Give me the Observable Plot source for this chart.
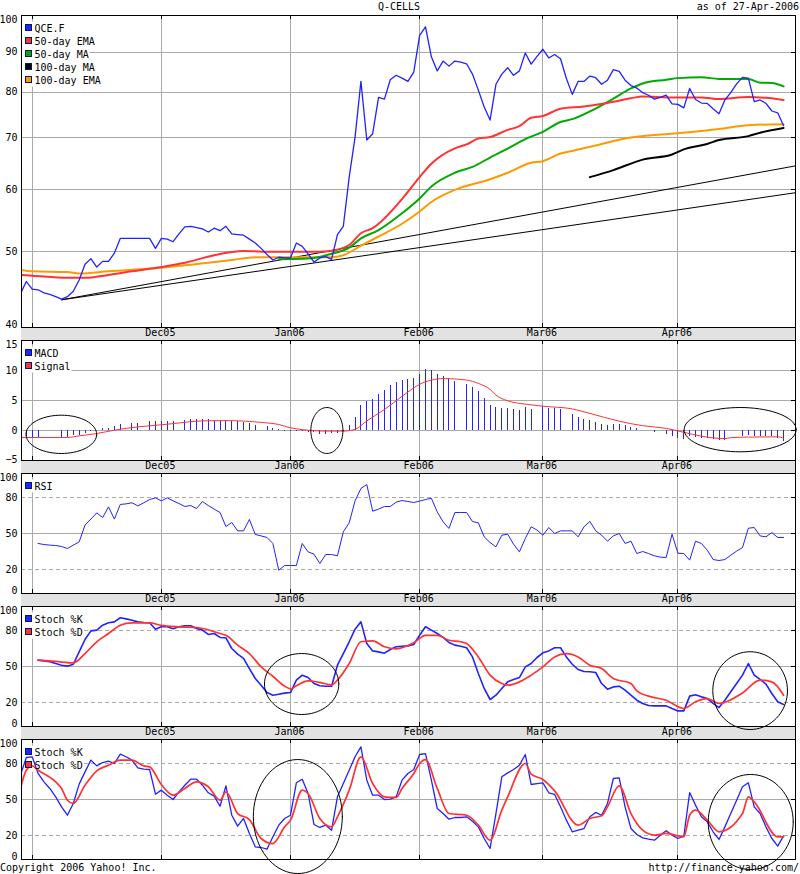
<!DOCTYPE html>
<html><head><meta charset="utf-8">
<script src="https://cdn.jsdelivr.net/npm/d3@7"></script>
<script src="https://cdn.jsdelivr.net/npm/@observablehq/plot@0.6"></script>
<style>
html,body{margin:0;padding:0;background:#fff;overflow:hidden}
#page{position:relative;width:800px;height:874px;overflow:hidden;font:10px "DejaVu Sans Mono",monospace;color:#000}
.t{position:absolute;white-space:pre;line-height:12px}
.band{position:absolute;left:21px;width:774px;height:13px;background:#e2e2e2;border-right:1px solid #000}
svg{position:absolute;left:0;overflow:visible}
</style></head><body><div id="page"></div>
<script>
const BLUE="#2222ff",RED="#ff3333",GREEN="#00aa00",ORANGE="#ff9900",GRID="#aaaaaa";
const monthTicks=[1,23,45,67,88,111];
const monthLabels=["","Dec05","Jan06","Feb06","Mar06","Apr06"];
const xDomain=[-0.823,131.03];

// price panel (sessions counted from -1)
const price=[44.2,45.8,44.8,44.7,44.3,44.1,43.8,43.5,43.8,44.5,46.0,48.2,49.0,47.8,48.6,48.6,49.8,52.0,52.0,52.0,52.0,52.0,52.0,50.5,52.0,51.9,51.5,52.7,53.8,53.9,53.7,53.5,53.0,53.6,53.2,53.9,52.7,52.6,52.5,51.9,51.3,50.5,49.6,48.8,49.2,49.1,49.1,51.3,50.8,49.7,48.5,49.1,49.3,48.9,52.6,53.9,62.3,70.1,82.6,69.5,70.8,78.8,78.4,83.0,84.1,83.4,82.6,84.9,94.6,97.0,88.8,85.2,87.7,86.4,87.7,87.4,87.0,84.4,80.5,76.6,73.7,81.9,84.4,86.0,84.1,85.2,89.8,86.9,88.9,90.8,88.5,89.4,88.3,83.3,79.5,82.6,82.6,83.9,83.5,81.9,82.9,85.5,85.1,82.9,81.6,81.0,79.9,79.3,78.4,78.8,79.3,77.3,77.2,76.4,80.9,78.3,77.5,77.4,76.2,75.1,78.2,79.9,82.0,83.6,83.4,77.8,78.2,77.4,75.7,75.3,72.5];
const ema50Days=[-1,1,7,10,14,18,23,27,32,37,42,50,53,55,57,59,64,67,69,73,75,77,79,82,84,86,88,91,95,100,103,105,110,115,118,123,126,129];
const ema50=[46.7,46.6,46.3,46.3,46.7,47.2,47.8,48.4,49.5,50.1,50.0,50.0,50.3,51.0,52.8,53.6,58.4,62.3,64.8,67.8,68.6,69.8,70.1,71.6,72.4,74.2,74.6,76.2,76.7,77.8,78.6,79.0,78.8,78.8,78.4,78.9,78.7,78.2];
const ma50Days=[43,48,52,55,57,60,64,67,69,73,76,79,83,85,88,91,93,96,100,103,105,109,111,115,118,123,125,127,129];
const ma50=[48.9,49,49.7,50.6,52,53.3,56,58.5,60.6,63.1,64.2,66,68.4,69.7,71.2,73.3,73.9,75.6,78.5,80.9,82.1,83,83.4,83.6,83.2,83.2,82.3,82.2,81.4];
const ma100Days=[96,100,105,110,112,116,118,123,125,129];
const ma100=[62.3,63.6,65.6,66.6,67.6,68.7,69.5,70.3,71,72];
const ema100Days=[-1,1,7,9,14,23,31,35,39,52,54,57,60,64,67,69,73,79,82,86,88,91,93,97,103,111,118,123,129];
const ema100=[47.4,47.2,47.1,46.9,47.2,47.7,48.4,48.8,49.2,49.2,49.5,50.9,52.3,54.3,56.3,57.9,60,61.9,63.1,65,65.3,66.8,67.3,68.4,70,70.9,71.8,72.6,72.8];
const trendDays=[6,131.03];
const trendUpper=[43.4,64.4];
const trendLower=[43.4,59.5];

// MACD panel
const macdDays=[0,1,2,6,7,8,9,10,11,13,14,15,16,18,19,21,22,23,24,25,27,28,29,30,31,32,33,34,35,36,37,38,39,41,42,43,44,45,46,47,48,49,50,51,52,53,54,55,56,57,58,59,60,61,62,63,64,65,66,67,68,69,70,71,72,73,75,76,77,78,79,80,81,82,83,84,85,86,88,89,90,91,93,94,95,96,97,98,99,100,101,102,103,104,105,107,109,110,111,112,113,114,115,116,117,118,119,122,123,124,125,126,127,128,129];
const macd=[-1.05,-1.2,-1.2,-1.2,-1.2,-.9,-.8,-.5,-.2,.4,.4,.7,1.05,1.15,1.2,1.55,1.55,1.55,1.55,1.55,1.7,1.9,1.9,1.9,1.85,1.7,1.7,1.7,1.5,1.45,1.3,1.15,.9,.7,.4,.2,-.2,-.1,-.15,-.2,-.4,-.4,-.6,-.6,-.55,-.45,-.2,.9,2.2,4.2,4.8,5.2,6.05,6.7,7.55,8.05,8.4,8.55,8.7,9.4,10.2,10.05,9.4,9.05,8.65,8.2,7.7,7.2,6.45,5.4,4.2,3.9,3.7,3.7,3.55,3.4,3.8,3.55,3.95,3.7,3.7,3.55,2.7,2.2,1.9,1.7,1.4,1.05,.9,1.05,1.05,.9,.55,.4,.05,-.4,-.6,-.95,-1.3,-1.45,-1.05,-1.2,-1.4,-1.4,-1.5,-1.7,-1.7,-1.05,-.8,-.95,-1,-1,-1.05,-1.3,-1.8];
const signalDays=[-1,7,9,12,15,19,23,25,30,34,40,43,45,47,51,54,56,58,61,64,66,67,69,71,75,77,79,80,82,85,88,93,96,101,105,109,112,115,119,120,123,128,129];
const signal=[-1.17,-1.17,-.9,-.5,.05,.6,.95,1.15,1.6,1.65,1.35,1,.45,.15,-.1,-.1,.2,1.6,3.5,5.7,7.1,7.7,8.4,8.65,8.4,7.85,6.85,5.9,4.95,4.4,4.05,3.6,2.85,1.55,.8,.35,-.3,-.95,-1.35,-1.2,-1.1,-1.05,-1.3];

// RSI panel (sessions counted from 2)
const rsi=[41.7,40.8,40.3,40,39.2,37.5,40.3,43,57,62,67.2,63.3,72.2,62,74.2,74.7,75.6,73,75.6,78.3,79.7,77.2,79.7,77.2,75,72.5,73.3,70.8,76.7,73.3,70.3,67.5,55.8,59.2,52.2,52.2,61.7,49.2,48,46.7,41.7,19.4,23.3,23.3,23.3,41.7,34.7,32.8,25,32.5,32.5,31.4,51.4,58.9,77.2,87.5,90.8,68.6,70.3,72.5,72.5,76.1,77.5,76.7,75.8,77,78.3,79.4,68,59.7,54.2,67.5,67.5,67.5,60,58.9,47.2,42.5,38.9,48.6,49.4,41.1,34.7,45.8,55.6,52.8,48.6,55,50,52.2,52.2,52.2,47.2,55.6,60,52.2,48.6,43.6,48,50,41.7,43.6,33.3,35,33.3,31.4,30.3,30,49.4,33.6,33.3,27.8,43.6,41.7,36.1,28.3,27.5,28.3,31.9,35.3,38.3,54.4,55,48,47.2,50.8,46.7,46.7];

// slow stochastic panel (%K sessions counted from 2)
const slowK=[55.3,54.7,53.9,52.5,51.1,50.3,51.9,62.2,72.5,79.7,80.3,84.4,86.4,87.2,90.6,89.7,88.6,87.2,86.7,86.4,81.1,83.1,83.1,81.4,83.1,83.9,83.9,81.7,80.3,76.7,77.5,74.2,73.9,65,60.3,56.7,48.3,40,34.4,28.3,26.1,26.9,27.8,28.3,38.6,42.8,40.8,35.8,33.9,33.6,33.6,51.1,60.8,70.6,81.1,87.2,69.2,63,62.2,61.1,64.2,66.4,66.9,67.2,68.3,76.1,83.1,80.3,77.5,74.2,70,67.8,66.9,65.6,58,44.2,31.7,22.5,26.1,31.7,37.2,39.2,40.8,49.7,52.5,57.5,61.4,63,65.6,65.6,58,51.9,47.5,45.8,45.6,45,35.8,31.1,33,33.6,30.3,26.1,21.9,19.2,17.5,17.2,17.2,17.2,15,13,13,25.3,26.4,24.7,23.3,19.2,15.8,21.9,28.9,35.8,42.8,52.5,42.8,39.2,35.3,27.5,20.6,18.3];
const slowDDays=[2,5,8,10,12,14,16,18,21,23,26,29,33,34,36,38,40,42,44,45,46,48,50,52,53,55,57,59,61,63,66,68,70,72,74,75,77,79,81,82,84,86,88,90,92,94,96,98,100,103,104,106,109,112,114,116,118,122,125,127,129];
const slowD=[55.3,54.2,53,60.8,70.6,77.5,84.4,86.4,86.4,84.2,83,82.5,77.5,76,67.8,60.8,49.7,41.9,33.6,31.4,33.9,38,36.7,34.7,38.6,52.5,70.6,71.4,66.4,64.7,69.7,76,76,71.9,70.6,69.2,58,42.8,35.8,34.4,37.2,42.8,49.7,58,60.8,58,51.1,48.3,40,35.8,29.7,25.3,21.9,15,20.6,23.3,19.2,28,38.6,37.2,26.1];

// fast stochastic panel (%K sessions counted from -1)
const fastK=[70.3,85,85.6,71.7,64.7,59.2,52.2,43.9,36.9,46.7,62.8,73,82.8,78,80.8,81.9,80,87.8,85.6,82.8,76.4,75.3,75,54.4,57.8,53.6,50,56.4,61.9,66.9,66.9,61.9,55.6,52.8,44.4,61.4,36.9,27.8,34.2,21.7,10.6,10,8.6,18.9,28.6,34.2,36.9,63.9,66.9,55,29.2,26.7,28.6,24.4,52.2,63.3,74.4,85.6,93.9,66.1,53.6,53.6,50,50.3,52.2,66.1,71.7,75,87.5,88.3,66.1,42.5,38.3,33.6,35,35,35.6,31.9,27.2,17.5,9.2,38.3,68.9,72.2,75,78.6,87.5,62.5,63.3,63.9,55.6,54.2,43.9,32.8,23.1,24.4,25.8,35.6,39.2,36.9,46.7,67.5,68,43.9,25.8,20.8,18,16.9,16.1,20.3,23.9,20.3,17.5,19.4,55.8,45.3,35.6,31.4,23.1,16.7,27.2,38.3,49.4,60.6,63.9,43.9,38.3,27.2,17.5,11.1,19.7];
const fastDDays=[-1,0,1,2,5,6,7,8,10,12,14,16,18,20,21,23,25,27,29,31,33,34,36,38,40,42,44,45,47,48,50,52,53,55,57,59,61,63,64,66,67,68,70,72,75,77,79,81,82,85,86,88,90,94,96,98,99,101,103,105,107,109,112,113,114,116,118,122,123,124,128,129];
const fastD=[59.2,74.4,78,74.4,64.7,59.2,49.4,46.7,61.9,73.9,78.6,82.8,82.8,78,77.2,62.5,53.6,59.2,64.7,60.6,49.4,56.4,38.3,33.3,17.5,13.3,27.2,32.8,57.8,55,34.2,27.2,35.6,57.8,85.6,63.3,52.2,51.7,59.2,71.7,80,83.3,59.2,38.3,36.9,28.6,16.1,41.1,52.2,80,71.1,66.7,57.2,28.6,34.2,36.4,43.9,61.4,38.3,24.4,20.3,21.7,18.9,36.9,41.1,32.8,23.1,38.3,52.2,48,18.9,18.9];

// hand-drawn ellipses: centre session, centre value, radius in sessions, radius in value
const macdRings=[[5.96,-.64,6.02,3.19],[51.2,0,2.73,3.83],[121.6,.14,9.54,3.69]];
const slowRings=[[46.9,35.4,6.33,25.4],[123.3,29.9,6.36,32.4]];
const fastRings=[[46.25,35.8,7.58,47.5],[123.4,31.25,7.24,39.6]];

const from=(start,vals)=>vals.map((v,k)=>({i:start+k,v}));
const zip=(days,vals)=>days.map((i,k)=>({i,v:vals[k]}));
const ln=(d,stroke,strokeWidth=1)=>Plot.line(d,{x:"i",y:"v",stroke,strokeWidth,clip:true});
const sm=(d,stroke,strokeWidth=1)=>Plot.line(d,{x:"i",y:"v",stroke,strokeWidth,clip:true,curve:"monotone-x"});
const ring=([ci,cv,ri,rv])=>Plot.line(d3.range(0,73).map(k=>({i:ci+ri*Math.cos(k*Math.PI/36),v:cv+rv*Math.sin(k*Math.PI/36)})),{x:"i",y:"v",stroke:"#000",strokeWidth:1});

function legendBack(items){
  return (idx,sc,ch,dim,ctx)=>{
    const g=d3.create("svg:g");
    items.forEach((it,k)=>g.append("rect").attr("x",21.5).attr("y",6.5+13*k).attr("width",14+it[0].length*6).attr("height",13).attr("fill","#fff"));
    return g.node();
  };
}
function legendFront(items){
  return (idx,sc,ch,dim,ctx)=>{
    const g=d3.create("svg:g").attr("font-family","DejaVu Sans Mono").attr("font-size",10).attr("text-anchor","start");
    items.forEach((it,k)=>{
      g.append("rect").attr("x",25.5).attr("y",9.5+13*k).attr("width",6).attr("height",6).attr("fill",it[1]).attr("stroke","#001a66").attr("stroke-width",1);
      g.append("text").attr("x",34.5).attr("y",17+13*k).attr("fill","#000").text(it[0]);
    });
    return g.node();
  };
}

function panel({top,h,mb=13,y,mid,topTick,topDy=4.7,botTick,botDy=-2.4,solid=[],dashed=[],legend,content,labels=true}){
  const H=h+mb;
  const p=Plot.plot({
    width:800,height:H,marginLeft:21,marginRight:5,marginTop:0,marginBottom:mb,
    style:{fontFamily:"DejaVu Sans Mono",fontSize:"10px",background:"none",overflow:"visible",position:"absolute",left:"0",top:top+"px",maxWidth:"none"},
    x:{domain:xDomain,axis:null},
    y:{...y,axis:null},
    marks:[
      Plot.ruleX(monthTicks,{stroke:GRID,strokeWidth:1,shapeRendering:"crispEdges"}),
      Plot.ruleY(solid,{stroke:GRID,strokeWidth:1,shapeRendering:"crispEdges"}),
      Plot.ruleY(dashed,{stroke:GRID,strokeWidth:1,strokeDasharray:"4,3",shapeRendering:"crispEdges"}),
      legendBack(legend),
      ...content,
      Plot.ruleX(monthTicks,{stroke:"#000",insetTop:h-4,shapeRendering:"crispEdges"}),
      Plot.ruleX(monthTicks,{stroke:"#000",insetBottom:h-4,shapeRendering:"crispEdges"}),
      Plot.ruleY([...solid,...dashed],{stroke:"#000",insetLeft:770,shapeRendering:"crispEdges"}),
      Plot.frame({stroke:"#000",strokeWidth:1}),
      Plot.axisY({ticks:mid,tickSize:0,tickPadding:4,anchor:"left",label:null}),
      Plot.axisY({ticks:[topTick],tickSize:0,tickPadding:4,anchor:"left",dy:topDy,label:null}),
      Plot.axisY({ticks:[botTick],tickSize:0,tickPadding:4,anchor:"left",dy:botDy,label:null}),
      labels?Plot.axisX({ticks:monthTicks,tickFormat:d=>monthLabels[monthTicks.indexOf(d)],tickSize:0,tickPadding:1,anchor:"bottom",dx:-1,label:null}):null,
      legendFront(legend)
    ]
  });
  return p;
}

const page=document.getElementById("page");
function addText(str,css){const d=document.createElement("div");d.className="t";d.textContent=str;Object.assign(d.style,css);page.appendChild(d);}
[328,461,594,727].forEach(t=>{const b=document.createElement("div");b.className="band";b.style.top=t+"px";page.appendChild(b);});

addText("Q-CELLS",{left:"378px",top:"1px"});
addText("as of 27-Apr-2006",{right:"1px",top:"1px"});

const panels=[
 panel({top:15,h:312,y:{type:"log",domain:[40,100.3]},mid:[90,80,70,60,50],topTick:100,topDy:3.3,botTick:40,botDy:-2.7,solid:[90,80,70,60,50],
  legend:[["QCE.F",BLUE],["50-day EMA",RED],["50-day MA",GREEN],["100-day MA","#000"],["100-day EMA",ORANGE]],
  content:[
   ln(zip(trendDays,trendUpper),"#000"),ln(zip(trendDays,trendLower),"#000"),
   sm(zip(ema100Days,ema100),ORANGE,2),sm(zip(ma100Days,ma100),"#000",2),sm(zip(ma50Days,ma50),GREEN,2),sm(zip(ema50Days,ema50),RED,2),
   ln(from(-1,price),BLUE,1.3)
  ]}),
 panel({top:340,h:120,y:{domain:[-5,15]},mid:[10,5,0],topTick:15,botTick:-5,botDy:-1,solid:[10,5,0],
  legend:[["MACD",BLUE],["Signal",RED]],
  content:[
   Plot.ruleX(zip(macdDays,macd),{x:"i",y1:0,y2:"v",stroke:BLUE,strokeWidth:1,shapeRendering:"crispEdges"}),
   sm(zip(signalDays,signal),RED,1),...macdRings.map(ring)
  ]}),
 panel({top:473,h:120,y:{domain:[0,100]},mid:[80,50,20],topTick:100,botTick:0,solid:[50],dashed:[80,20],
  legend:[["RSI",BLUE]],content:[ln(from(2,rsi),BLUE,1)]}),
 panel({top:606,h:120,y:{domain:[0,100]},mid:[80,50,20],topTick:100,botTick:0,solid:[50],dashed:[80,20],
  legend:[["Stoch %K",BLUE],["Stoch %D",RED]],
  content:[ln(from(2,slowK),BLUE,1.6),sm(zip(slowDDays,slowD),RED,1.7),...slowRings.map(ring)]}),
 panel({top:739,h:120,mb:14,labels:false,y:{domain:[0,100]},mid:[80,50,20],topTick:100,botTick:0,solid:[50],dashed:[80,20],
  legend:[["Stoch %K",BLUE],["Stoch %D",RED]],
  content:[ln(from(-1,fastK),BLUE,1.3),sm(zip(fastDDays,fastD),RED,1.7),...fastRings.map(ring)]})
];
addText("Copyright 2006 Yahoo! Inc.",{left:"0",top:"862px"});
addText("http://finance.yahoo.com/",{right:"1px",top:"862px"});
panels.forEach(p=>page.appendChild(p));
</script></body></html>
